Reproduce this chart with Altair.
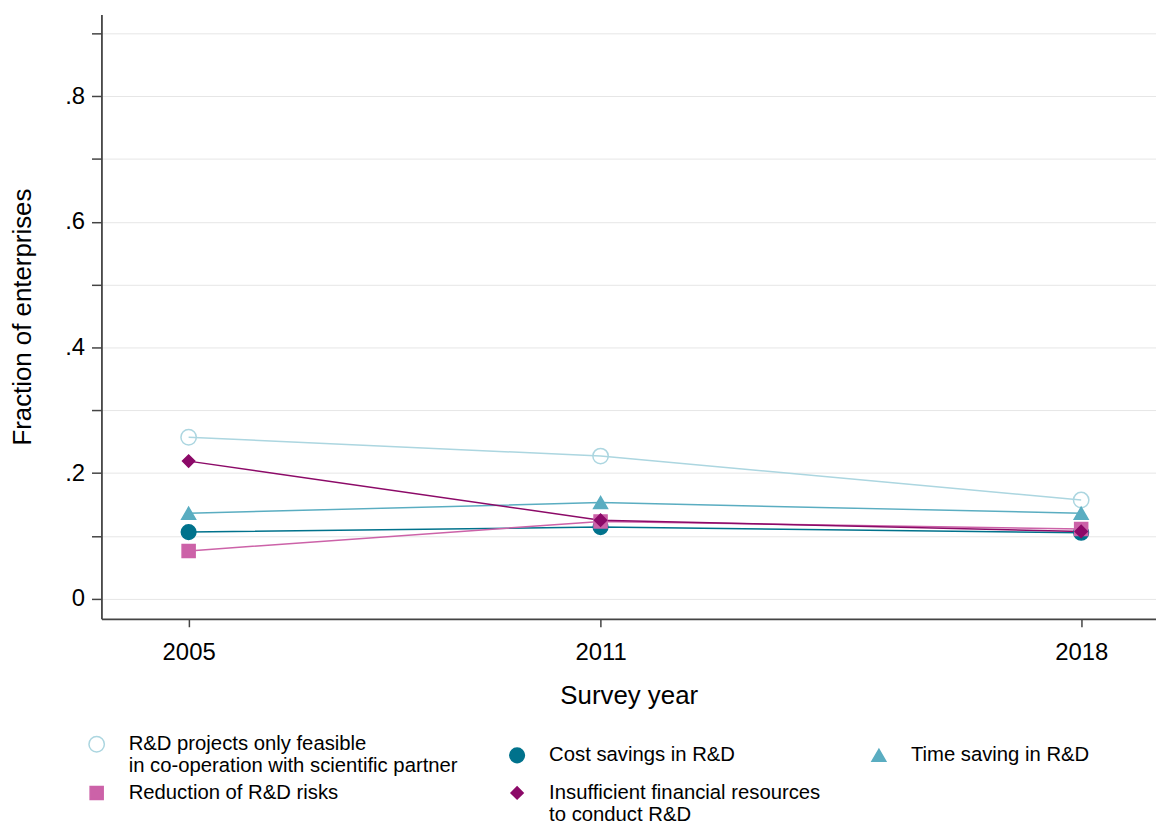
import altair as alt
import pandas as pd

years = [2005, 2011, 2018]
series_names = [
    "R&D projects only feasible|in co-operation with scientific partner",
    "Cost savings in R&D",
    "Time saving in R&D",
    "Reduction of R&D risks",
    "Insufficient financial resources|to conduct R&D",
]
cooperation = [0.257, 0.227, 0.157]
cost_savings = [0.106, 0.114, 0.105]
time_saving = [0.136, 0.153, 0.136]
risk_reduction = [0.076, 0.123, 0.111]
insufficient_finance = [0.219, 0.125, 0.107]

stroke_colors = ["#acd6e0", "#00728c", "#5aadc1", "#cc62a8", "#8c0a68"]
fill_colors = ["transparent", "#00728c", "#5aadc1", "#cc62a8", "#8c0a68"]
shapes = ["circle", "circle", "triangle-up", "square", "diamond"]
sizes = [240, 150, 260, 140, 560]

rows = []
for name, vals in zip(series_names, [cooperation, cost_savings, time_saving,
                                     risk_reduction, insufficient_finance]):
    for yr, v in zip(years, vals):
        rows.append({"year": yr, "value": v, "series": name})
df = pd.DataFrame(rows)

FONT = "Liberation Sans"

x_enc = alt.X(
    "year:Q",
    scale=alt.Scale(domain=[2003.73, 2019.09], nice=False, zero=False),
    axis=alt.Axis(
        values=years, format="d", title="Survey year", grid=False,
        tickSize=8, labelPadding=14, titlePadding=18,
    ),
)
y_enc = alt.Y(
    "value:Q",
    scale=alt.Scale(domain=[-0.032, 0.93], nice=False, zero=False),
    axis=alt.Axis(
        values=[0, 0.1, 0.2, 0.3, 0.4, 0.5, 0.6, 0.7, 0.8, 0.9],
        labelExpr="datum.value == 0 ? '0' : ((datum.value == 0.2 || datum.value == 0.4 || datum.value == 0.6 || datum.value == 0.8) ? replace(format(datum.value, '.1f'), '0.', '.') : '')",
        title="Fraction of enterprises", grid=True,
        tickSize=10, labelPadding=7, titlePadding=29,
    ),
)

legend = alt.Legend(
    title=None, orient="none", direction="horizontal", legendX=-15, legendY=724,
    columns=3, columnPadding=48, rowPadding=6, labelFontSize=20.4, labelFont=FONT,
    labelLimit=600, labelOffset=22, symbolStrokeWidth=1.5, padding=0,
    labelExpr="split(datum.label, '|')", labelColor="#000000",
)

lines = alt.Chart(df).mark_line(strokeWidth=1.5).encode(
    x=x_enc, y=y_enc,
    detail="series:N",
    color=alt.Color("series:N", scale=alt.Scale(domain=series_names, range=stroke_colors), legend=legend),
)

points = alt.Chart(df).mark_point(filled=True, opacity=1, strokeWidth=1.5).encode(
    x=x_enc, y=y_enc,
    shape=alt.Shape("series:N", scale=alt.Scale(domain=series_names, range=shapes), legend=legend),
    fill=alt.Fill("series:N", scale=alt.Scale(domain=series_names, range=fill_colors), legend=legend),
    stroke=alt.Stroke("series:N", scale=alt.Scale(domain=series_names, range=stroke_colors), legend=legend),
    size=alt.Size("series:N", scale=alt.Scale(domain=series_names, range=sizes), legend=legend),
)

chart = alt.layer(lines, points).properties(
    width=1061, height=608,
    padding={"left": 1, "top": 4, "right": 0, "bottom": 5},
).configure_view(stroke=None).configure_axis(
    labelFont=FONT, titleFont=FONT, labelFontSize=24, titleFontSize=26,
    titleFontWeight="normal", labelColor="#000000", titleColor="#000000",
    domainColor="#444444", domainWidth=1.8, tickColor="#444444", tickWidth=1.5,
    gridColor="#e6e6e6", gridWidth=1,
)

chart.save("out.html", embed_options={"renderer": "svg", "actions": False})
